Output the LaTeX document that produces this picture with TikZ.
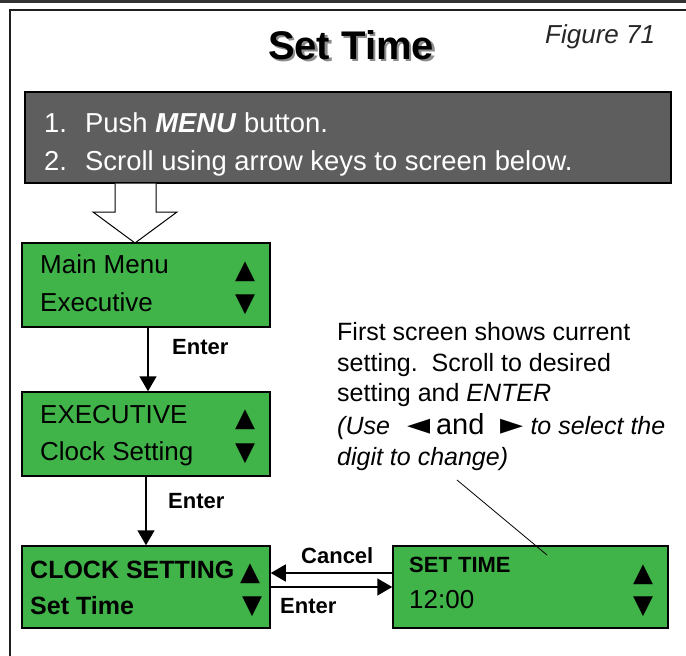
\documentclass[tikz,border=0pt]{standalone}
\usepackage{fontspec}
\setmainfont{Liberation Sans}
\newfontfamily\symfont{DejaVu Sans}
\usetikzlibrary{arrows.meta}
\definecolor{lcdgreen}{HTML}{41B449}
\definecolor{panelgray}{HTML}{5E5E5E}
\newcommand\tup{{\symfont ▲}}
\newcommand\tdown{{\symfont ▼}}
\newcommand\tleft{{\symfont\fontsize{30}{30}\selectfont ◄}}
\newcommand\tright{{\symfont\fontsize{30}{30}\selectfont ►}}
\begin{document}
\begin{tikzpicture}[x=1pt,y=-1pt,
  screen/.style={draw=black, line width=1.5pt, fill=lcdgreen, inner sep=0pt},
  txt/.style={anchor=base west, inner sep=0pt},
  scr/.style={txt, font=\fontsize{26}{26}\selectfont},
  scrb/.style={txt, font=\fontsize{25}{25}\selectfont\bfseries},
  panel/.style={txt, text=white, font=\fontsize{27.4}{27.4}\selectfont},
  note/.style={txt, font=\fontsize{25}{25}\selectfont},
  lbl/.style={txt, font=\fontsize{22}{22}\selectfont\bfseries},
  flow/.style={line width=1.5pt, -{Triangle[width=17pt,length=15pt]}},
]
\useasboundingbox (0,0) rectangle (686,656);
\fill[black!80] (0,0) rectangle (686,3);
\draw[line width=2pt, black!88] (686,10) -- (9.5,10) -- (9.5,656);

% title
\node[anchor=base, inner sep=0pt, font=\fontsize{40}{40}\selectfont\bfseries, text=black!45] at (353.5,61.5) {Set Time};
\node[anchor=base, inner sep=0pt, font=\fontsize{40}{40}\selectfont\bfseries] (title) at (351,59) {Set Time};
\node[txt, font=\fontsize{26}{26}\selectfont\itshape, text=black!85] (fig) at (545,43) {Figure 71};

% instruction panel
\node[draw=black, line width=1.2pt, fill=panelgray, minimum width=646pt, minimum height=91pt, inner sep=0pt] (panel) at (348,137.5) {};
\node[panel] (p1) at (44,132) {\makebox[41pt][l]{1.}Push \textbf{\itshape MENU} button.};
\node[panel] (p2) at (44,170) {\makebox[41pt][l]{2.}Scroll using arrow keys to screen below.};

% hollow arrow
\draw[line width=1pt, fill=white] (115,183.5) -- (115,212) -- (93,212) -- (135,243) -- (177,212) -- (156,212) -- (156,183.5);

% screens
\node[screen, minimum width=248pt, minimum height=84pt] (s1) at (146,285) {};
\node[screen, minimum width=248pt, minimum height=84pt] (s2) at (146,434) {};
\node[screen, minimum width=248pt, minimum height=82pt] (s3) at (146,587) {};
\node[screen, minimum width=275pt, minimum height=82pt] (s4) at (530.5,587) {};

\node[scr] (s1a) at (40,273) {Main Menu};
\node[scr] (s1b) at (40,311) {Executive};
\node[scr] (s1u) at (235,278) {\tup};
\node[scr] (s1d) at (235,311) {\tdown};

\node[scr] (s2a) at (40,423) {EXECUTIVE};
\node[scr] (s2b) at (40,460) {Clock Setting};
\node[scr] (s2u) at (235,426) {\tup};
\node[scr] (s2d) at (235,460) {\tdown};

\node[scrb] (s3a) at (30,578) {CLOCK SETTING};
\node[scr] (s3u) at (240,580) {\tup};
\node[scrb] (s3b) at (30,614) {Set Time};
\node[scr] (s3d) at (242,613) {\tdown};

\node[txt, font=\fontsize{22}{22}\selectfont\bfseries] (s4a) at (409,572) {SET TIME};
\node[scr] (s4b) at (409,608) {12:00};
\node[scr] (s4u) at (633,581) {\tup};
\node[scr] (s4d) at (633,613) {\tdown};

% connectors
\draw[flow] ([xshift=2pt]s1.south) -- ([xshift=2pt]s2.north);
\node[lbl] (e1) at (172,354) {Enter};
\draw[flow] (s2.south) -- (s3.north);
\node[lbl] (e2) at (168,508) {Enter};
\draw[flow] ([yshift=14pt]s4.west) -- ([yshift=14pt]s3.east);
\node[lbl] (c1) at (301,563) {Cancel};
\draw[flow] (s3.east) -- (s4.west);
\node[lbl] (e3) at (280,613) {Enter};

% note
\node[note] (n1) at (337,340) {First screen shows current};
\node[note] (n2) at (337,371) {setting.\ \ Scroll to desired};
\node[note] (n3) at (337,401) {setting and \textit{ENTER}};
\node[note] (n4) at (337,434) {\textit{(Use}\hspace{18pt}\tleft\hspace{5pt}{\fontsize{29}{29}\selectfont and}\hspace{16pt}\tright\hspace{7pt}\textit{to select the}};
\node[note] (n5) at (337,465) {\textit{digit to change)}};
\coordinate (q) at (457,480);
\coordinate (p) at (547,555);
\draw[line width=0.8pt] (q) -- (p);
\end{tikzpicture}
\end{document}
